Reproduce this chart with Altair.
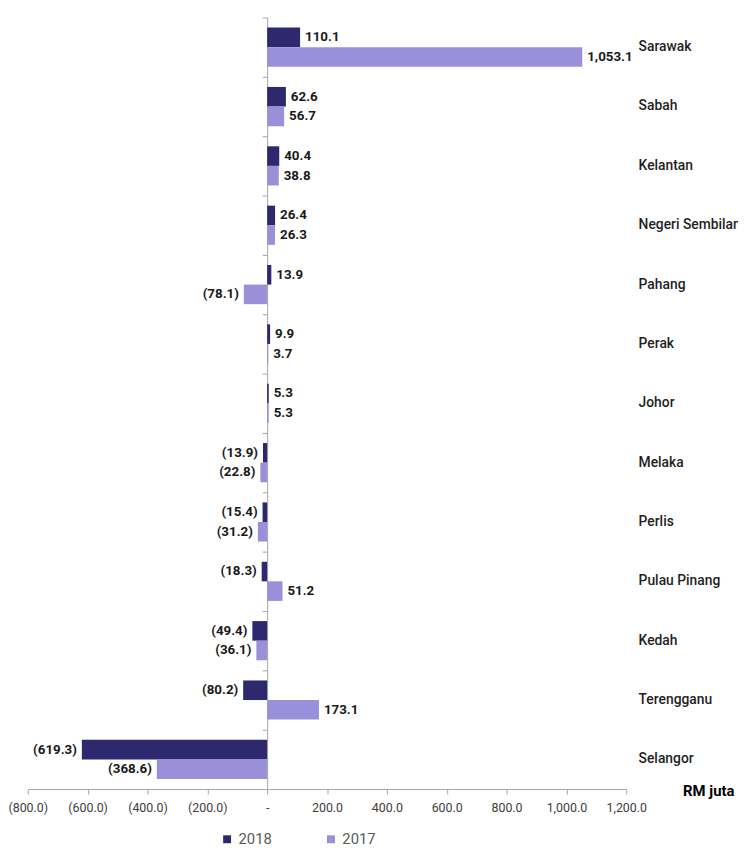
import altair as alt
import pandas as pd

states = ["Sarawak", "Sabah", "Kelantan", "Negeri Sembilan", "Pahang", "Perak", "Johor",
          "Melaka", "Perlis", "Pulau Pinang", "Kedah", "Terengganu", "Selangor"]
v2018 = [110.1, 62.6, 40.4, 26.4, 13.9, 9.9, 5.3, -13.9, -15.4, -18.3, -49.4, -80.2, -619.3]
v2017 = [1053.1, 56.7, 38.8, 26.3, -78.1, 3.7, 5.3, -22.8, -31.2, 51.2, -36.1, 173.1, -368.6]
years = ["2018", "2017"]
x_ticks = [-800, -600, -400, -200, 0, 200, 400, 600, 800, 1000, 1200]


def fmt(v):
    s = f"{abs(v):,.1f}"
    return f"({s})" if v < 0 else s


rows = []
for s, a, b in zip(states, v2018, v2017):
    rows.append({"state": s, "year": "2018", "value": a, "label": fmt(a)})
    rows.append({"state": s, "year": "2017", "value": b, "label": fmt(b)})
df = pd.DataFrame(rows)

FONT = "Roboto"
W, H = 605, 780
XMIN, XMAX = -800, 1200
zero_px = W * (0 - XMIN) / (XMAX - XMIN)

xscale = alt.Scale(domain=[XMIN, XMAX], nice=False, zero=False)
x_axis = alt.Axis(
    values=x_ticks, labelOverlap=False, labelFlush=False,
    labelExpr="datum.value < 0 ? '(' + format(-datum.value, ',.1f') + ')' : (datum.value == 0 ? '-' : format(datum.value, ',.1f'))",
    grid=False, domainColor="#A6A6A6", tickColor="#A6A6A6", tickSize=5,
    labelFont=FONT, labelFontSize=12.5, labelColor="#404040", labelPadding=8,
    title="RM juta", titleX=W + 57, titleY=2, titleAlign="left", titleBaseline="middle",
    titleFont=FONT, titleFontSize=15, titleFontWeight="bold", titleColor="#000000",
    titleAngle=0,
)
X = alt.X("value:Q", scale=xscale, axis=x_axis)

yscale = alt.Scale(domain=states, paddingInner=0, paddingOuter=0)
yoff = alt.YOffset("year:N", scale=alt.Scale(domain=years, paddingInner=0, paddingOuter=0.515))

bars = alt.Chart(df).mark_bar().encode(
    x=X,
    y=alt.Y("state:N", scale=yscale, sort=states,
            axis=alt.Axis(orient="right", title=None, domain=False, ticks=False,
                          labelPadding=12, labelFont=FONT, labelFontSize=14,
                          labelFontWeight=500, labelColor="#1F1F1F", labelLimit=200)),
    yOffset=yoff,
    color=alt.Color("year:N", scale=alt.Scale(domain=years, range=["#2E286E", "#9A90D9"]),
                    legend=alt.Legend(orient="none", legendX=194, legendY=823, direction="horizontal",
                                      title=None, symbolType="square", symbolSize=64,
                                      symbolStrokeWidth=0, labelFont=FONT, labelFontSize=15,
                                      labelColor="#595959", labelOffset=4, columnPadding=52,
                                      padding=0)),
)

pos = alt.Chart(df).transform_filter("datum.value >= 0").mark_text(
    align="left", baseline="middle", dx=5, font=FONT, fontSize=13.5, fontWeight="bold", color="#1A1A1A"
).encode(
    x=X,
    y=alt.Y("state:N", scale=yscale, sort=states,
            axis=alt.Axis(orient="left", offset=-zero_px, labels=False, title=None,
                          domain=True, ticks=True, tickSize=5, bandPosition=0,
                          domainColor="#A6A6A6", tickColor="#A6A6A6")),
    yOffset=yoff,
    text="label:N",
)

neg = alt.Chart(df).transform_filter("datum.value < 0").mark_text(
    align="right", baseline="middle", dx=-5, font=FONT, fontSize=13.5, fontWeight="bold", color="#1A1A1A"
).encode(
    x=X,
    y=alt.Y("state:N", scale=yscale, sort=states, axis=None),
    yOffset=yoff,
    text="label:N",
)

chart = alt.layer(bars, pos, neg).resolve_axis(y="independent").properties(
    width=W, height=H,
    autosize=alt.AutoSizeParams(type="none"),
    padding={"left": 20, "top": 5, "right": 113, "bottom": 58},
).configure_view(stroke=None)

chart.save("out.html", embed_options={"renderer": "svg", "actions": False})
